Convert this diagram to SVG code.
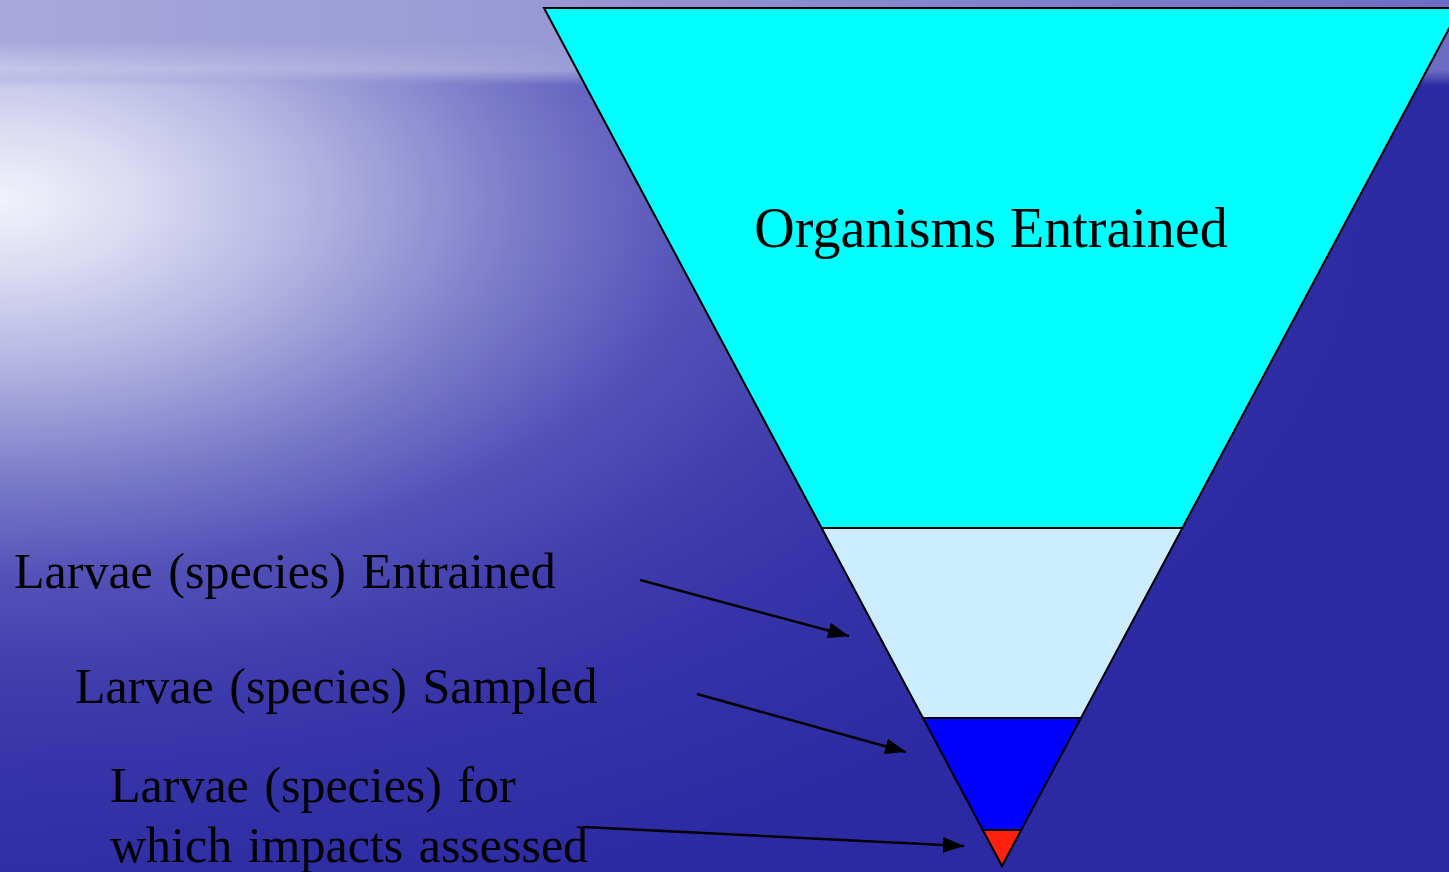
<svg xmlns="http://www.w3.org/2000/svg" width="1449" height="872" viewBox="0 0 1449 872">
  <style>
    .lbl { font-family: "Liberation Serif", "Times New Roman", serif; fill: #000; }
    .band { stroke: #000; stroke-width: 2; stroke-linejoin: miter; }
    .conn { stroke: #000; stroke-width: 2.5; fill: none; marker-end: url(#arrow); }
  </style>
  <defs>
    <radialGradient id="sea" gradientUnits="userSpaceOnUse" cx="0" cy="0" r="1" gradientTransform="translate(0 200) scale(1400 750)">
      <stop offset="0" stop-color="#F2F2FB"/>
      <stop offset="0.1" stop-color="#DADAF2"/>
      <stop offset="0.22" stop-color="#B4B4E2"/>
      <stop offset="0.37" stop-color="#7C7CCA"/>
      <stop offset="0.5" stop-color="#5452B8"/>
      <stop offset="0.62" stop-color="#4240AE"/>
      <stop offset="0.75" stop-color="#3634A8"/>
      <stop offset="1" stop-color="#2C2AA2"/>
    </radialGradient>
    <linearGradient id="sky" x1="0" y1="0" x2="1" y2="0">
      <stop offset="0" stop-color="#A8A8DD"/>
      <stop offset="0.35" stop-color="#9A9AD6"/>
      <stop offset="1" stop-color="#6C6CC4"/>
    </linearGradient>
    <linearGradient id="skyFade" x1="0" y1="0" x2="0" y2="1">
      <stop offset="0" stop-color="#FFFFFF" stop-opacity="1"/>
      <stop offset="0.82" stop-color="#FFFFFF" stop-opacity="1"/>
      <stop offset="1" stop-color="#FFFFFF" stop-opacity="0"/>
    </linearGradient>
    <mask id="skymask">
      <rect x="0" y="0" width="1449" height="86" fill="url(#skyFade)"/>
    </mask>
    <linearGradient id="horizon" x1="0" y1="0" x2="0" y2="1">
      <stop offset="0" stop-color="#FFFFFF" stop-opacity="0"/>
      <stop offset="0.7" stop-color="#FFFFFF" stop-opacity="0.35"/>
      <stop offset="1" stop-color="#FFFFFF" stop-opacity="0"/>
    </linearGradient>
    <linearGradient id="horizonFade" x1="0" y1="0" x2="1" y2="0">
      <stop offset="0" stop-color="#FFFFFF" stop-opacity="1"/>
      <stop offset="1" stop-color="#FFFFFF" stop-opacity="0"/>
    </linearGradient>
    <mask id="hmask">
      <rect x="0" y="0" width="700" height="90" fill="url(#horizonFade)"/>
    </mask>
    <marker id="arrow" markerUnits="userSpaceOnUse" markerWidth="24" markerHeight="18" refX="21" refY="8" orient="auto">
      <path d="M0,0 L21,8 L0,16 Z" fill="#000"/>
    </marker>
  </defs>

  <g id="background">
    <rect x="0" y="0" width="1449" height="872" fill="url(#sea)"/>
    <rect x="0" y="0" width="1449" height="86" fill="url(#sky)" mask="url(#skymask)"/>
    <rect x="0" y="40" width="700" height="42" fill="url(#horizon)" mask="url(#hmask)"/>
  </g>

  <g id="funnel">
    <g id="band-organisms">
      <polygon class="band" points="544,8 1460,8 1182.4,528 821.6,528" fill="#00FFFF"/>
      <text class="lbl" x="991" y="247" font-size="56" text-anchor="middle">Organisms Entrained</text>
    </g>
    <g id="band-entrained">
      <polygon class="band" points="821.6,528 1182.4,528 1081,718 923,718" fill="#CCECFF"/>
    </g>
    <g id="band-sampled">
      <polygon class="band" points="923,718 1081,718 1021.2,830 982.8,830" fill="#0000FF"/>
    </g>
    <g id="band-assessed">
      <polygon class="band" points="982.8,830 1021.2,830 1002,866" fill="#FF2010"/>
    </g>
  </g>

  <g id="label-entrained">
    <text class="lbl" x="14" y="588" font-size="50" word-spacing="3">Larvae (species) Entrained</text>
  </g>
  <g id="label-sampled">
    <text class="lbl" x="75" y="703" font-size="50" word-spacing="3">Larvae (species) Sampled</text>
  </g>
  <g id="label-assessed">
    <text class="lbl" x="110" y="802" font-size="50" word-spacing="3">Larvae (species) for</text>
    <text class="lbl" x="110" y="862" font-size="50" word-spacing="3">which impacts assessed</text>
  </g>

  <g id="connectors">
    <line class="conn" x1="640" y1="580" x2="849" y2="636"/>
    <line class="conn" x1="697" y1="694" x2="906" y2="752"/>
    <line class="conn" x1="583" y1="827" x2="964" y2="846"/>
  </g>
</svg>
